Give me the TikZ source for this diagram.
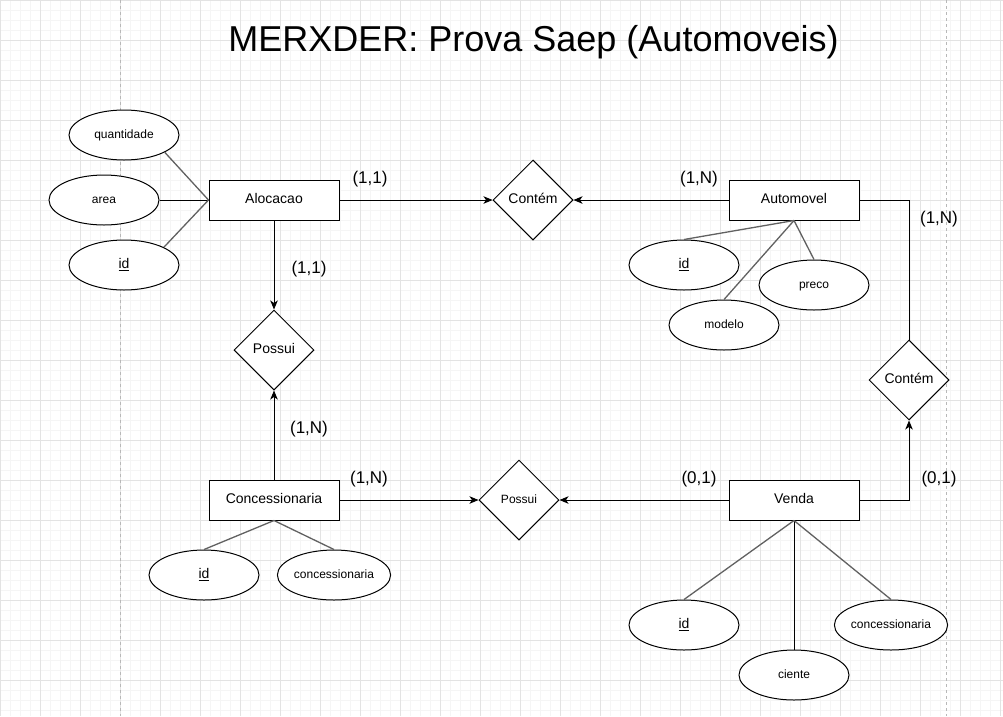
\documentclass[tikz,border=0pt]{standalone}
\usepackage{fontspec}
\setmainfont{Liberation Sans}
\usetikzlibrary{shapes.geometric,arrows.meta}
\begin{document}
\begin{tikzpicture}[x=1pt,y=-1pt,
 txt/.style={text height=0.95em,text depth=0.17em},
 ent/.style={draw,fill=white,line width=1pt,minimum width=130pt,minimum height=40pt,inner sep=0pt,font=\fontsize{14}{16}\selectfont,txt},
 rel/.style={draw,fill=white,diamond,line width=1pt,minimum width=80pt,minimum height=80pt,inner sep=0pt,font=\fontsize{14}{16}\selectfont,txt},
 att/.style={draw,fill=white,ellipse,line width=1pt,minimum width=110pt,minimum height=50pt,inner sep=0pt,font=\fontsize{12}{14}\selectfont,txt},
 keyatt/.style={att,font=\fontsize{14}{16}\selectfont},
 card/.style={inner sep=0pt,font=\fontsize{17}{20}\selectfont,text height=0.75em,text depth=0.3em},
 arr/.style={line width=1pt,-{Stealth[length=9pt,width=7.5pt,inset=2.5pt]}},
 link/.style={line width=1pt},
 glink/.style={line width=1.3pt,draw=black!62}]
% background and grid
\useasboundingbox (0,0) rectangle (1003,716);
\fill[white] (0,0) rectangle (1003,716);
\draw[black!4,line width=1pt,step=10pt] (0,0) grid (1003,716);
\draw[black!11,line width=1pt,step=40pt] (0,0) grid (1003,716);
\draw[black!28,line width=1pt,dash pattern=on 3pt off 3pt] (120,0) -- (120,716);
\draw[black!28,line width=1pt,dash pattern=on 3pt off 3pt] (946.5,0) -- (946.5,716);
% title
\node[anchor=base,inner sep=0pt,font=\fontsize{36}{40}\selectfont] (title) at (533.5,51) {MERXDER: Prova Saep (Automoveis)};
% entities
\node[ent] (aloc) at (274,200) {Alocacao};
\node[ent] (auto) at (794,200) {Automovel};
\node[ent] (conc) at (274,500) {Concessionaria};
\node[ent] (venda) at (794,500) {Venda};
% relationships
\node[rel] (cont1) at (533,200) {Contém};
\node[rel] (poss1) at (274,350) {Possui};
\node[rel] (cont2) at (909,380) {Contém};
\node[rel,font=\fontsize{12}{14}\selectfont] (poss2) at (519,500) {Possui};
% attributes
\node[att] (qty) at (124,135) {quantidade};
\node[att] (area) at (104,200) {area};
\node[keyatt] (aid) at (124,265) {\underline{id}};
\node[keyatt] (autoid) at (684,265) {\underline{id}};
\node[att] (preco) at (814,285) {preco};
\node[att] (modelo) at (724,325) {modelo};
\node[keyatt] (concid) at (204,575) {\underline{id}};
\node[att] (concname) at (334,575) {concessionaria};
\node[keyatt] (vid) at (684,625) {\underline{id}};
\node[att] (ciente) at (794,675) {ciente};
\node[att] (vconc) at (891,625) {concessionaria};
% attribute links
\draw[glink] (qty.-23.5) -- (aloc.west);
\draw[link] (area.east) -- (aloc.west);
\draw[glink] (aid.24.4) -- (aloc.west);
\draw[glink] (auto.south) -- (autoid.north);
\draw[glink] (auto.south) -- (modelo.north);
\draw[glink] (auto.south) -- (preco.north);
\draw[glink] (conc.south) -- (concid.north);
\draw[glink] (conc.south) -- (concname.north);
\draw[glink] (venda.south) -- (vid.north);
\draw[link] (venda.south) -- (ciente.north);
\draw[glink] (venda.south) -- (vconc.north);
% relationship connectors
\draw[arr] (aloc.east) -- (cont1.west);
\draw[arr] (auto.west) -- (cont1.east);
\draw[arr] (aloc.south) -- (poss1.north);
\draw[arr] (conc.north) -- (poss1.south);
\draw[arr] (conc.east) -- (poss2.west);
\draw[arr] (venda.west) -- (poss2.east);
\draw[link] (auto.east) -| (cont2.north);
\draw[arr] (venda.east) -| (cont2.south);
% cardinalities
\node[card] (c1) at (370,181) {(1,1)};
\node[card] (c2) at (309,271) {(1,1)};
\node[card] (c3) at (699,181) {(1,N)};
\node[card] (c4) at (939,221) {(1,N)};
\node[card] (c5) at (309,431) {(1,N)};
\node[card] (c6) at (369,481) {(1,N)};
\node[card] (c7) at (699,481) {(0,1)};
\node[card] (c8) at (939,481) {(0,1)};
\end{tikzpicture}
\end{document}
